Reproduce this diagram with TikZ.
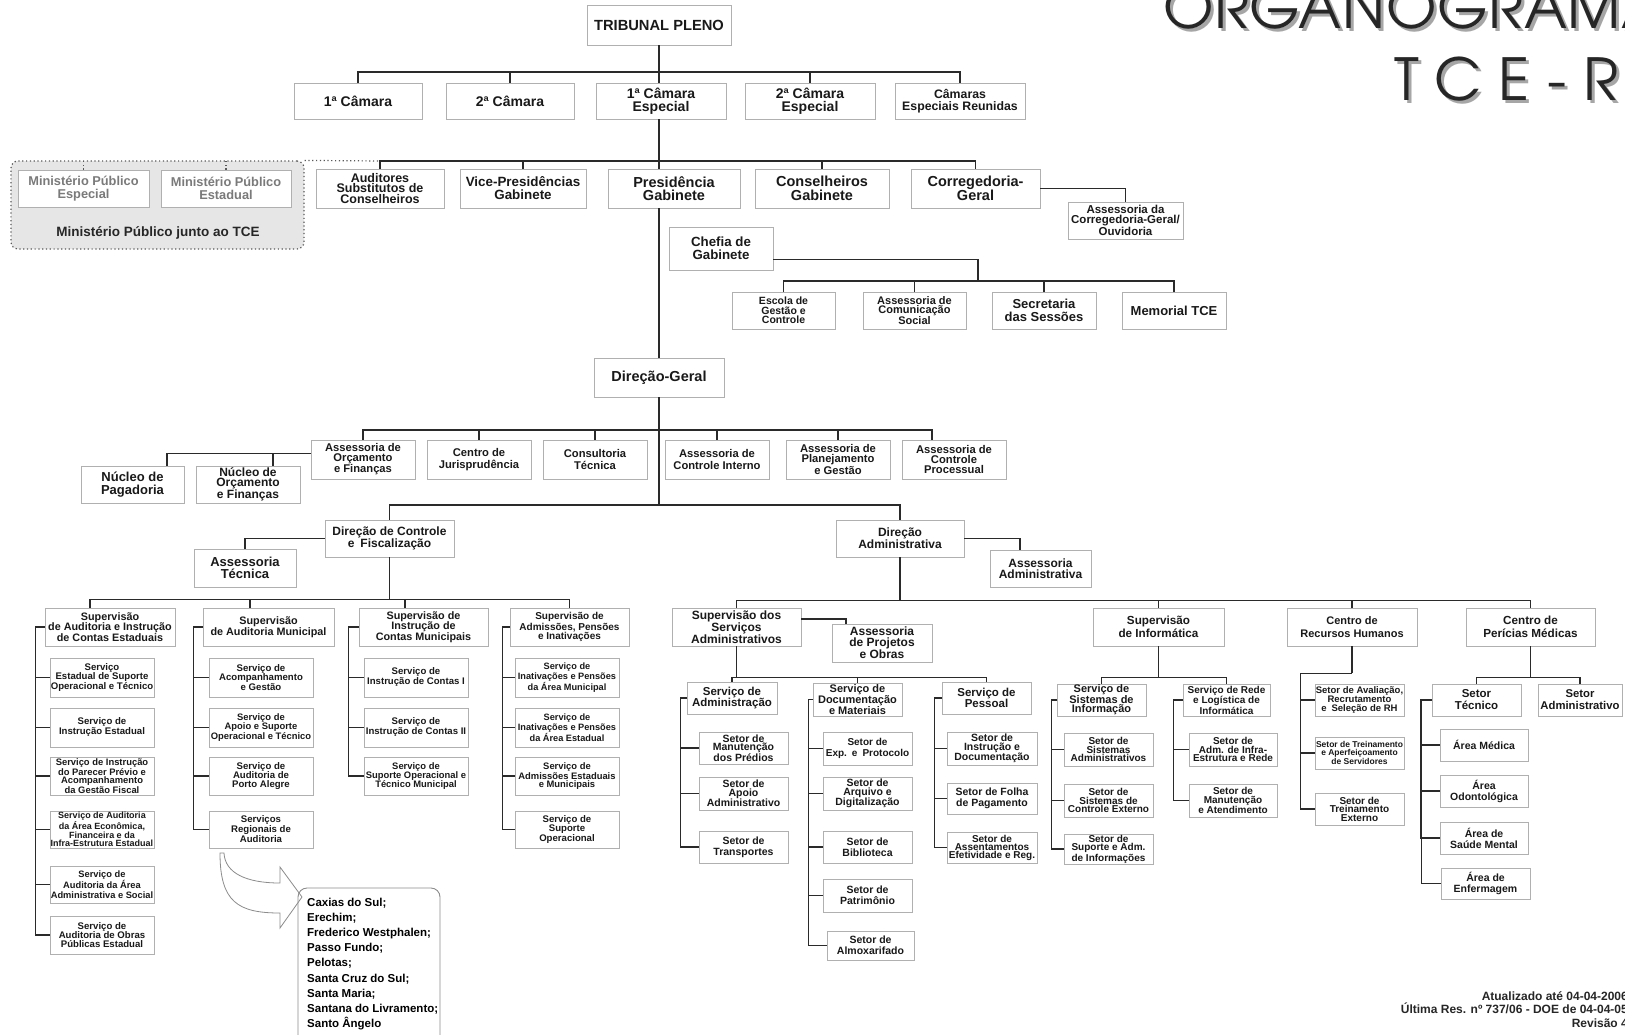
\documentclass[tikz,border=0pt]{standalone}
\usepackage{fontspec}
\setmainfont{Liberation Sans}
\newfontfamily\adv[LetterSpace=1]{texgyreadventor-regular.otf}
\newfontfamily\advw[LetterSpace=30]{texgyreadventor-regular.otf}
\usetikzlibrary{calc}
\definecolor{boxgray}{HTML}{B0B0B0}
\definecolor{lncol}{HTML}{2A2A2A}
\definecolor{mpfill}{HTML}{E6E6E6}
\definecolor{mptext}{HTML}{7A7A7A}
\newcommand\ttlfont{\adv\fontsize{58}{58}\selectfont}
\newcommand\ttlfontw{\advw\fontsize{58}{58}\selectfont}
\tikzset{
  fs/.style 2 args={font={\fontsize{#1}{#2}\selectfont\bfseries}},
  ob/.style={draw=boxgray, line width=0.9pt, fill=white, inner sep=0pt, align=center, text=black!90},
  obg/.style={ob, text=mptext},
  ln/.style={draw=lncol, line width=1.8pt},
  dotl/.style={draw=black!65, line width=1.2pt, dash pattern=on 1.2pt off 2.6pt},
  mpbx/.style={dotl, fill=mpfill, rounded corners=7pt, inner sep=0pt},
  arr/.style={draw=black!45, line width=0.8pt, fill=white},
  cbox/.style={draw=black!45, line width=0.9pt, rounded corners=9pt, inner sep=0pt}
}
% \ob{name}{x1}{y1}{x2}{y2}{text}{{size}{skip}}
\newcommand\ob[7]{\node[ob,fs=#7,minimum width={(#4)-(#2)},minimum height={(#5)-(#3)}] (#1) at ({((#2)+(#4))/2},{((#3)+(#5))/2}) {#6};}
\newcommand\spn[3]{\draw[ln] (#1.west) -- ++(-#3,0) |- (#2.west);}
\newcommand\drp[2]{\draw[ln] (#1.north) |- (#2);}
\begin{document}
\begin{tikzpicture}[x=1pt,y=-1pt]
\useasboundingbox (0,0) rectangle (1625,1034);
\fill[white] (0,0) rectangle (1625,1034);

% ---------- title ----------
\node[anchor=base west, inner sep=0, text=black!35] (t1s) at (1166,31) {\ttlfont ORGANOGRAMA};
\node[anchor=base west, inner sep=0, text=black!85] (t1) at (1163,28) {\ttlfont ORGANOGRAMA};
\node[anchor=base west, inner sep=0, text=black!35] (t2s) at (1397,103) {\ttlfontw TCE-RS};
\node[anchor=base west, inner sep=0, text=black!85] (t2) at (1394,100) {\ttlfontw TCE-RS};

% ---------- top ----------
\ob{tp}{587}{5}{731}{45}{TRIBUNAL PLENO}{{14.7}{14}}
\ob{c1}{294}{83}{422}{119}{1ª Câmara}{{14}{13.5}}
\ob{c2}{446}{83}{574}{119}{2ª Câmara}{{14}{13.5}}
\ob{c1e}{596}{83}{726}{119}{1ª Câmara\\Especial}{{14}{13.5}}
\ob{c2e}{745}{83}{875}{119}{2ª Câmara\\Especial}{{14}{13.5}}
\ob{cer}{895}{83}{1025}{119}{Câmaras\\Especiais Reunidas}{{12.3}{12}}
\coordinate (b1) at (659,72);
\draw[ln] (tp.south) -- (b1);
\foreach \n in {c1,c2,c2e,cer} {\drp{\n}{b1}}
\draw[ln] (b1) -- (b1 |- c1e.north);

% ---------- MP ----------
\node[mpbx, minimum width=293, minimum height=88] (mpbox) at (157.5,205) {};
\node[obg, fs={12.8}{12.5}, minimum width=131, minimum height=37] (mpe) at (83.5,188.5) {Ministério Público\\Especial};
\node[obg, fs={12.8}{12.5}, minimum width=130, minimum height=37] (mps) at (226,188.5) {Ministério Público\\Estadual};
\node[fs={13.5}{13.5}, text=black!85, inner sep=0] (mptxt) at (158,233) {Ministério Público junto ao TCE};
\draw[dotl] (mpe.north) -- (mpe.north |- mpbox.north);
\draw[dotl] (mps.north) -- (mps.north |- mpbox.north);

% ---------- row 3 ----------
\ob{aud}{316}{169}{444}{208}{Auditores\\Substitutos de\\Conselheiros}{{12.5}{10.5}}
\ob{vp}{460}{169}{586}{208}{Vice-Presidências\\Gabinete}{{13.4}{13}}
\ob{pres}{608}{169}{740}{208}{Presidência\\Gabinete}{{14.5}{13.5}}
\ob{cons}{755}{169}{889}{208}{Conselheiros\\Gabinete}{{14.5}{13.5}}
\ob{corr}{911}{169}{1040}{208}{Corregedoria-\\Geral}{{14.5}{13.5}}
\ob{acg}{1068}{202}{1183}{239}{Assessoria da\\Corregedoria-Geral/\\Ouvidoria}{{11.5}{10}}
\coordinate (b2) at (659,161);
\draw[ln] (b1 |- c1e.south) -- (b2);
\foreach \n in {aud,vp,cons,corr} {\drp{\n}{b2}}
\draw[ln] (b2) -- (b2 |- pres.north);
\draw[dotl] (mpbox.north east) -- (aud.north |- b2);
\draw[ln] (corr.east) -| (acg.north);

% ---------- chefia ----------
\ob{chef}{669}{227}{773}{270}{Chefia de\\Gabinete}{{13.3}{13}}
\ob{esc}{732}{292}{835}{329}{Escola de\\Gestão e\\Controle}{{10.5}{9.5}}
\ob{acs}{863}{292}{966}{329}{Assessoria de\\Comunicação\\Social}{{11}{9.5}}
\ob{sec}{992}{292}{1096}{329}{Secretaria\\das Sessões}{{13}{12.5}}
\ob{mem}{1122}{292}{1226}{329}{Memorial TCE}{{13}{13}}
\draw[ln] ($(pres.south east)+(-10,0)$) -- ($(pres.south east)+(-10,0)$ |- chef.north);
\coordinate (b4) at (978,281);
\draw[ln] ($(chef.east)+(0,11)$) -| (b4);
\foreach \n in {esc,acs,sec,mem} {\drp{\n}{b4}}

% ---------- direção-geral ----------
\ob{dg}{594}{358}{724}{397}{Direção-Geral}{{14.5}{14}}
\draw[ln] (b2 |- pres.south) -- (dg.north);
\ob{aof}{311}{440}{415}{479}{Assessoria de\\Orçamento\\e Finanças}{{11.2}{9.5}}
\ob{cj}{427}{440}{531}{479}{Centro de\\Jurisprudência}{{11.2}{12}}
\ob{ct}{543}{440}{647}{479}{Consultoria\\Técnica}{{11.2}{12}}
\ob{aci}{665}{440}{769}{479}{Assessoria de\\Controle Interno}{{11.2}{12}}
\ob{apg}{786}{440}{890}{479}{Assessoria de\\Planejamento\\e Gestão}{{11.2}{10}}
\ob{acp}{902}{440}{1006}{479}{Assessoria de\\Controle\\Processual}{{11.2}{10}}
\coordinate (b5) at (659,430);
\coordinate (b6) at (659,505);
\draw[ln] (dg.south) -- (b6);
\foreach \n in {aof,cj,ct,aci,apg} {\drp{\n}{b5}}
\draw[ln] ($(acp.north west)!0.29!(acp.north east)$) |- (b5);
\ob{np}{81}{466}{184}{503}{Núcleo de\\Pagadoria}{{13}{12.5}}
\ob{nof}{196}{466}{300}{503}{Núcleo de\\Orçamento\\e Finanças}{{12}{10}}
\draw[ln] ($(aof.west)+(0,-6)$) -| ($(np.north west)!0.83!(np.north east)$);
\draw[ln] ($(aof.west)+(0,-6)$) -| ($(nof.north west)!0.74!(nof.north east)$);

\ob{dcf}{325}{520}{454}{557}{Direção de Controle\\e\enspace Fiscalização}{{12}{12}}
\ob{da}{836}{520}{964}{557}{Direção\\Administrativa}{{12}{11}}
\ob{at}{194}{549}{296}{587}{Assessoria\\Técnica}{{13}{12.5}}
\ob{aa}{990}{550}{1091}{587}{Assessoria\\Administrativa}{{12}{11.5}}
\drp{dcf}{b6}
\drp{da}{b6}
\draw[ln] (dcf.west) -| (at.north);
\draw[ln] (da.east) -| ($(aa.north west)!0.3!(aa.north east)$);

% ---------- controle e fiscalização ----------
\ob{s1}{45}{608}{175}{646}{Supervisão\\de Auditoria e Instrução\\de Contas Estaduais}{{10.8}{10.5}}
\ob{s2}{203}{608}{334}{646}{Supervisão\\de Auditoria Municipal}{{10.8}{11}}
\ob{s3}{359}{608}{488}{646}{Supervisão de\\Instrução de\\Contas Municipais}{{10.8}{10.5}}
\ob{s4}{510}{608}{629}{646}{Supervisão de\\Admissões, Pensões\\e Inativações}{{10}{9}}
\coordinate (b7) at ($(dcf.south)+(0,42)$);
\draw[ln] (dcf.south) -- (b7);
\draw[ln] ($(s1.north west)!0.35!(s1.north east)$) |- (b7);
\draw[ln] ($(s2.north west)!0.36!(s2.north east)$) |- (b7);
\draw[ln] ($(s3.north west)!0.36!(s3.north east)$) |- (b7);
\drp{s4}{b7}

\ob{s1a}{50}{658}{154}{697}{Serviço\\Estadual de Suporte\\Operacional e Técnico}{{9.6}{9.5}}
\ob{s1b}{50}{708}{154}{747}{Serviço de\\Instrução Estadual}{{9.6}{10}}
\ob{s1c}{50}{757}{154}{795}{Serviço de Instrução\\do Parecer Prévio e\\Acompanhamento\\da Gestão Fiscal}{{9.4}{7.8}}
\ob{s1d}{50}{811}{154}{848}{Serviço de Auditoria\\da Área Econômica,\\Financeira e da\\Infra-Estrutura Estadual}{{9}{7.8}}
\ob{s1e}{50}{866}{154}{903}{Serviço de\\Auditoria da Área\\Administrativa e Social}{{9.3}{9.3}}
\ob{s1f}{50}{916}{154}{954}{Serviço de\\Auditoria de Obras\\Públicas Estadual}{{9.6}{9.3}}
\foreach \n in {s1a,s1b,s1c,s1d,s1e,s1f} {\spn{\n}{s1}{14}}

\ob{s2a}{209}{658}{313}{697}{Serviço de\\Acompanhamento\\e Gestão}{{9.6}{9.3}}
\ob{s2b}{209}{708}{313}{747}{Serviço de\\Apoio e Suporte\\Operacional e Técnico}{{9.4}{9.3}}
\ob{s2c}{209}{757}{313}{795}{Serviço de\\Auditoria de\\Porto Alegre}{{9.6}{9.3}}
\ob{s2d}{209}{811}{313}{848}{Serviços\\Regionais de\\Auditoria}{{9.6}{8.5}}
\foreach \n in {s2a,s2b,s2c,s2d} {\spn{\n}{s2}{15}}

\ob{s3a}{364}{658}{468}{697}{Serviço de\\Instrução de Contas I}{{9.6}{10}}
\ob{s3b}{364}{708}{468}{747}{Serviço de\\Instrução de Contas II}{{9.6}{10}}
\ob{s3c}{364}{757}{468}{795}{Serviço de\\Suporte Operacional e\\Técnico Municipal}{{9.4}{9.3}}
\foreach \n in {s3a,s3b,s3c} {\spn{\n}{s3}{15}}

\ob{s4a}{515}{658}{619}{697}{Serviço de\\Inativações e Pensões\\da Área Municipal}{{9.2}{8}}
\ob{s4b}{515}{708}{619}{747}{Serviço de\\Inativações e Pensões\\da Área Estadual}{{9.2}{8}}
\ob{s4c}{515}{757}{619}{795}{Serviço de\\Admissões Estaduais\\e Municipais}{{9.4}{8.5}}
\ob{s4d}{515}{811}{619}{848}{Serviço de\\Suporte\\Operacional}{{9.6}{8.5}}
\foreach \n in {s4a,s4b,s4c,s4d} {\spn{\n}{s4}{12}}

% regional arrow and cities
\draw[arr] (220,853) .. controls (220,902) and (238,913) .. (280,913) -- (280,928) -- (302,897) -- (280,867) -- (280,883) .. controls (246,883) and (225,873) .. (224,853) -- cycle;
\node[cbox, minimum width=142, minimum height=170] (cities) at (369,973) {};
\node[anchor=north west, inner sep=0, align=left, fs={11.5}{15.1}] (citytxt) at (307,898) {Caxias do Sul;\\Erechim;\\Frederico Westphalen;\\Passo Fundo;\\Pelotas;\\Santa Cruz do Sul;\\Santa Maria;\\Santana do Livramento;\\Santo Ângelo};

% ---------- direção administrativa ----------
\ob{ssa}{672}{608}{801}{646}{Supervisão dos\\Serviços\\Administrativos}{{12}{10.5}}
\ob{sinf}{1093}{608}{1224}{646}{Supervisão\\de Informática}{{11.7}{12.5}}
\ob{crh}{1287}{608}{1417}{646}{Centro de\\Recursos Humanos}{{11}{12.5}}
\ob{cpm}{1466}{608}{1595}{646}{Centro de\\Perícias Médicas}{{11.7}{12.5}}
\coordinate (b8) at ($(da.south)+(0,43)$);
\draw[ln] (da.south) -- (b8);
\foreach \n in {ssa,sinf,crh,cpm} {\drp{\n}{b8}}
\ob{apo}{832}{624}{932}{662}{Assessoria\\de Projetos\\e Obras}{{12}{10.5}}
\draw[ln] ($(ssa.east)+(0,-8)$) -| ($(apo.north west)!0.14!(apo.north east)$);

\ob{sadm}{687}{682}{777}{714}{Serviço de\\Administração}{{11.5}{11.5}}
\ob{sdoc}{813}{683}{902}{716}{Serviço de\\Documentação\\e Materiais}{{11}{9}}
\ob{spes}{942}{682}{1031}{714}{Serviço de\\Pessoal}{{11.5}{11.5}}
\coordinate (b9) at ($(ssa.south)+(0,31)$);
\draw[ln] (ssa.south) -- (b9);
\foreach \n in {sadm,sdoc,spes} {\drp{\n}{b9}}

\ob{ma}{699}{732}{788}{764}{Setor de\\Manutenção\\dos Prédios}{{10.5}{8.5}}
\ob{mb}{699}{777}{788}{810}{Setor de\\Apoio\\Administrativo}{{10.5}{8.5}}
\ob{mc}{699}{831}{788}{863}{Setor de\\Transportes}{{10.5}{11}}
\foreach \n in {ma,mb,mc} {\spn{\n}{sadm}{18}}

\ob{da1}{823}{732}{912}{765}{Setor de\\Exp.\enspace e\enspace Protocolo}{{10}{11}}
\ob{da2}{823}{777}{912}{810}{Setor de\\Arquivo e\\Digitalização}{{10.5}{8.5}}
\ob{da3}{823}{831}{912}{863}{Setor de\\Biblioteca}{{10.5}{11}}
\ob{da4}{823}{879}{912}{912}{Setor de\\Patrimônio}{{10.5}{11}}
\ob{da5}{827}{931}{914}{960}{Setor de\\Almoxarifado}{{10.5}{11}}
\foreach \n in {da1,da2,da3,da4} {\spn{\n}{sdoc}{14}}
\spn{da5}{sdoc}{18}

\ob{pa}{947}{732}{1037}{765}{Setor de\\Instrução e\\Documentação}{{10.5}{8.5}}
\ob{pb}{947}{783}{1037}{814}{Setor de Folha\\de Pagamento}{{10.5}{11}}
\ob{pc}{947}{832}{1037}{863}{Setor de\\Assentamentos\\Efetividade e Reg.}{{10}{8}}
\foreach \n in {pa,pb,pc} {\spn{\n}{spes}{12}}

% informática
\ob{ssi}{1057}{684}{1146}{716}{Serviço de\\Sistemas de\\Informação}{{11}{9}}
\ob{srl}{1183}{684}{1270}{716}{Serviço de Rede\\e Logística de\\Informática}{{10}{8.5}}
\coordinate (b10) at ($(sinf.south)+(0,31)$);
\draw[ln] (sinf.south) -- (b10);
\foreach \n in {ssi,srl} {\drp{\n}{b10}}
\ob{ia}{1064}{733}{1153}{766}{Setor de\\Sistemas\\Administrativos}{{10}{8.5}}
\ob{ib}{1064}{784}{1153}{817}{Setor de\\Sistemas de\\Controle Externo}{{10}{8.5}}
\ob{ic}{1064}{834}{1153}{864}{Setor de\\Suporte e Adm.\\de Informações}{{10}{8.5}}
\foreach \n in {ia,ib,ic} {\spn{\n}{ssi}{12}}
\ob{ra}{1189}{733}{1277}{766}{Setor de\\Adm. de Infra-\\Estrutura e Rede}{{10}{8.5}}
\ob{rb}{1189}{784}{1277}{817}{Setor de\\Manutenção\\e Atendimento}{{10}{8.5}}
\foreach \n in {ra,rb} {\spn{\n}{srl}{15}}

% recursos humanos
\coordinate (b11) at ($(crh.south)+(0,27)$);
\draw[ln] (crh.south) -- (b11);
\ob{ha}{1315}{684}{1404}{716}{Setor de Avaliação,\\Recrutamento\\e\enspace Seleção de RH}{{9.5}{8.5}}
\ob{hb}{1315}{737}{1404}{769}{Setor de Treinamento\\e Aperfeiçoamento\\de Servidores}{{8.5}{7.2}}
\ob{hc}{1315}{793}{1404}{825}{Setor de\\Treinamento\\Externo}{{10}{8.5}}
\foreach \n in {ha,hb,hc} {\draw[ln] (\n.west) -- ++(-14,0) |- (b11);}

% perícias médicas
\ob{st}{1432}{684}{1521}{716}{Setor\\Técnico}{{11.5}{12}}
\ob{sa}{1538}{684}{1622}{716}{Setor\\Administrativo}{{11.3}{12}}
\coordinate (b12) at ($(cpm.south)+(0,31)$);
\draw[ln] (cpm.south) -- (b12);
\foreach \n in {st,sa} {\drp{\n}{b12}}
\ob{pm1}{1440}{729}{1528}{761}{Área Médica}{{10.5}{11}}
\ob{pm2}{1440}{775}{1528}{807}{Área\\Odontológica}{{10.5}{11}}
\ob{pm3}{1440}{822}{1528}{854}{Área de\\Saúde Mental}{{10.5}{11}}
\ob{pm4}{1441}{868}{1530}{899}{Área de\\Enfermagem}{{10.5}{11}}
\foreach \n in {pm1,pm2,pm3,pm4} {\spn{\n}{st}{19}}

% footer
\node[anchor=north east, inner sep=0, align=right, fs={12}{13.7}, text=black!85] (foot) at (1628,991) {Atualizado até 04-04-2006\\Última Res. nº 737/06 - DOE de 04-04-05\\Revisão 4};
\end{tikzpicture}
\end{document}
